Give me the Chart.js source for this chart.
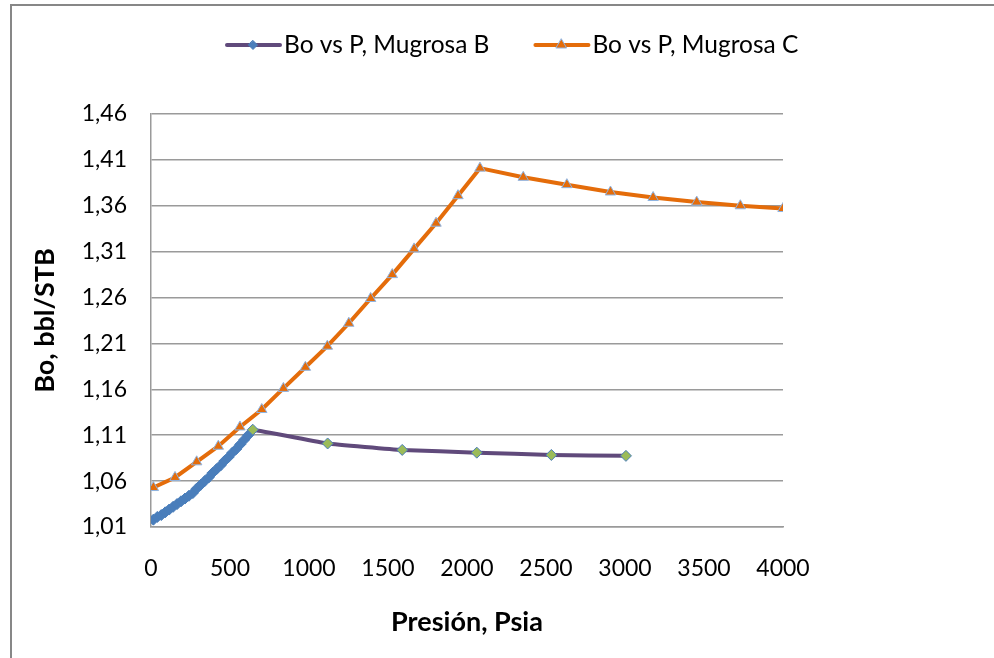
<!DOCTYPE html>
<html>
<head>
<meta charset="utf-8">
<script src="https://cdn.jsdelivr.net/npm/chart.js@4/dist/chart.umd.min.js"></script>
<style>
  html, body { margin: 0; padding: 0; background: #fff; overflow: hidden; }
  #wrap { width: 994px; height: 658px; }
</style>
</head>
<body>
<div id="wrap"><canvas id="boChart" width="994" height="658"></canvas></div>
<script>
// Mugrosa B: dense points below bubble point, then a few above
const pressureB = [15, 40, 65, 90, 115, 140, 165, 190, 215, 240, 265, 290, 315, 340, 365,
  390, 415, 440, 465, 490, 515, 540, 565, 590, 615, 644, 1118, 1590, 2062, 2534, 3006];
const boB = [1.018, 1.021, 1.023, 1.026, 1.029, 1.032, 1.035, 1.038, 1.041, 1.044, 1.047,
  1.052, 1.056, 1.060, 1.064, 1.069, 1.073, 1.077, 1.082, 1.086, 1.091, 1.095, 1.100,
  1.105, 1.110, 1.116, 1.101, 1.094, 1.091, 1.0885, 1.0875];

// Mugrosa C
const pressureC = [15, 152, 289, 426, 563, 701, 838, 977, 1116, 1252, 1390, 1527, 1665,
  1804, 1943, 2082, 2356, 2632, 2908, 3178, 3454, 3730, 4000];
const boC = [1.053, 1.064, 1.081, 1.098, 1.119, 1.138, 1.161, 1.184, 1.207, 1.232, 1.259,
  1.285, 1.313, 1.341, 1.371, 1.401, 1.391, 1.383, 1.375, 1.369, 1.364, 1.360, 1.357];

const seriesNames = ["Bo vs P, Mugrosa B", "Bo vs P, Mugrosa C"];
const yTicks = [1.01, 1.06, 1.11, 1.16, 1.21, 1.26, 1.31, 1.36, 1.41, 1.46];
const xTicks = [0, 500, 1000, 1500, 2000, 2500, 3000, 3500, 4000];

const PURPLE = "#604a7b";
const ORANGE = "#e46c0a";
const BLUE = "#4a7ebb";
const GREEN = "#9bbb59";
const TRI_EDGE = "#8eb4e3";

function drawMarker(ctx, style, x, y, r, fill, stroke) {
  ctx.beginPath();
  if (style === "rectRot") {
    ctx.moveTo(x, y - r);
    ctx.lineTo(x + r, y);
    ctx.lineTo(x, y + r);
    ctx.lineTo(x - r, y);
  } else {
    ctx.moveTo(x, y - r);
    ctx.lineTo(x + r * 0.87, y + r * 0.5);
    ctx.lineTo(x - r * 0.87, y + r * 0.5);
  }
  ctx.closePath();
  ctx.fillStyle = fill;
  ctx.fill();
  ctx.lineWidth = 1;
  ctx.strokeStyle = stroke;
  ctx.stroke();
}

// white page with the grey frame on the left and top
const framePlugin = {
  id: "frame",
  beforeDraw(chart) {
    const ctx = chart.ctx;
    ctx.save();
    ctx.fillStyle = "#fff";
    ctx.fillRect(0, 0, chart.width, chart.height);
    ctx.strokeStyle = "#878787";
    ctx.lineWidth = 2;
    ctx.beginPath();
    ctx.moveTo(11, chart.height);
    ctx.lineTo(11, 5);
    ctx.lineTo(chart.width, 5);
    ctx.stroke();
    ctx.restore();
  },
};

// legend drawn Excel style: line sample with marker in the middle
const legendPlugin = {
  id: "excelLegend",
  afterDraw(chart) {
    const ctx = chart.ctx;
    const y = 45;
    let x = 225;
    ctx.save();
    ctx.font = "24.5px Lato";
    ctx.textBaseline = "middle";
    chart.data.datasets.forEach((ds, i) => {
      ctx.strokeStyle = ds.borderColor;
      ctx.lineWidth = 4;
      ctx.lineCap = "round";
      ctx.beginPath();
      ctx.moveTo(x + 2, y);
      ctx.lineTo(x + 55, y);
      ctx.stroke();
      if (i === 0) drawMarker(ctx, "rectRot", x + 28, y, 4.5, BLUE, BLUE);
      else drawMarker(ctx, "triangle", x + 28, y, 6, ORANGE, TRI_EDGE);
      ctx.fillStyle = "#000";
      ctx.fillText(ds.label, x + 59, y);
      x += 59 + ctx.measureText(ds.label).width + 44;
    });
    ctx.restore();
  },
};

const ctx = document.getElementById("boChart").getContext("2d");
const boChart = new Chart(ctx, {
  type: "line",
  data: {
    datasets: [
      {
        label: seriesNames[0],
        data: pressureB.map((p, i) => ({ x: p, y: boB[i] })),
        borderColor: PURPLE,
        borderWidth: 4,
        tension: 0.1,
        pointStyle: "rectRot",
        pointRadius: 5.5,
        pointBorderWidth: 1,
        pointBackgroundColor: pressureB.map((p) => (p < 640 ? BLUE : GREEN)),
        pointBorderColor: BLUE,
      },
      {
        label: seriesNames[1],
        data: pressureC.map((p, i) => ({ x: p, y: boC[i] })),
        borderColor: ORANGE,
        borderWidth: 4,
        tension: 0,
        pointStyle: "triangle",
        pointRadius: 6,
        pointBorderWidth: 1,
        pointBackgroundColor: ORANGE,
        pointBorderColor: TRI_EDGE,
      },
    ],
  },
  options: {
    responsive: false,
    animation: false,
    layout: { padding: { top: 114, right: 211, bottom: 0, left: 0 } },
    plugins: {
      legend: { display: false },
      tooltip: { enabled: false },
    },
    scales: {
      x: {
        type: "linear",
        min: 0,
        max: 4000,
        afterBuildTicks: (scale) => {
          scale.ticks = xTicks.map((v) => ({ value: v }));
        },
        afterFit: (scale) => {
          scale.height = 131;
        },
        grid: { display: false, drawTicks: false },
        border: { color: "#9a9a9a", width: 1.5 },
        ticks: {
          padding: 28,
          color: "#000",
          font: { family: "Lato", size: 23 },
          callback: (v) => String(v),
        },
        title: {
          display: true,
          text: "Presión, Psia",
          color: "#000",
          font: { family: "Lato", size: 27, weight: "bold" },
          padding: { bottom: 20 },
        },
      },
      y: {
        type: "linear",
        min: 1.01,
        max: 1.46,
        afterBuildTicks: (scale) => {
          scale.ticks = yTicks.map((v) => ({ value: v }));
        },
        afterFit: (scale) => {
          scale.width = 151;
        },
        grid: { color: "#9a9a9a", lineWidth: 1.5, drawTicks: false },
        border: { color: "#9a9a9a", width: 1.5 },
        ticks: {
          padding: 24,
          color: "#000",
          font: { family: "Lato", size: 23 },
          callback: (v) => v.toFixed(2).replace(".", ","),
        },
        title: {
          display: true,
          text: "Bo, bbl/STB",
          color: "#000",
          font: { family: "Lato", size: 27, weight: "bold" },
          padding: { top: 29 },
        },
      },
    },
  },
  plugins: [framePlugin, legendPlugin],
});
</script>
</body>
</html>
